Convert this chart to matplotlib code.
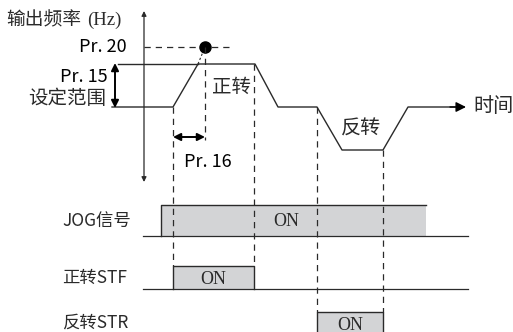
import matplotlib.pyplot as plt

plt.rcParams['font.family'] = ['Noto Sans CJK SC', 'DejaVu Sans']

# diagram units follow the picture: x = time, y grows downward
base_y, top_y, neg_y, pr20_y = 107, 64, 150, 47

# output frequency waveform (time, level)
freq_t = [112, 173, 198, 255, 278, 317, 342, 383, 408, 455]
freq_y = [base_y, base_y, top_y, top_y, base_y, base_y, neg_y, neg_y, base_y, base_y]
pr20_t = 205

# signals: (on, off)
jog_on = (161, 426)
stf_on = (173, 254)
str_on = (317, 383)
sig_rows = [("JOG信号", 236, 205), ("正转STF", 289, 266), ("反转STR", 340, 312)]

ink = "#2a2a2a"
fill = "#d3d4d6"

fig = plt.figure(figsize=(5.13, 3.32), dpi=100)
ax = fig.add_axes([0, 0, 1, 1])
ax.set_xlim(0, 513)
ax.set_ylim(332, 0)
ax.axis("off")

# vertical axis
ax.annotate("", xy=(144, 11), xytext=(144, 182),
            arrowprops=dict(arrowstyle="<|-|>", color=ink, lw=0.9,
                            mutation_scale=7, shrinkA=0, shrinkB=0))
ax.text(6, 20, "输出频率", fontsize=13.5, va="center", ha="left", color=ink)
ax.text(87, 20, "(Hz)", fontsize=13.5, va="center", ha="left", color=ink,
        family="Liberation Serif")

# waveform
ax.plot(freq_t, freq_y, color=ink, lw=1.0)
ax.plot([118, freq_t[2]], [top_y, top_y], color=ink, lw=1.0)
ax.annotate("", xy=(466, base_y), xytext=(450, base_y),
            arrowprops=dict(arrowstyle="-|>", color="black", lw=1.0,
                            mutation_scale=15, shrinkA=0, shrinkB=0))
ax.text(473, base_y, "时间", fontsize=14.5, va="center", ha="left", color=ink)

# Pr.20
ax.plot([144, 232], [pr20_y, pr20_y], color=ink, lw=0.9, ls=(0, (5, 4)))
ax.plot([freq_t[2], pr20_t], [top_y, pr20_y], color=ink, lw=0.8, ls=(0, (2, 2)))
ax.plot([pr20_t], [pr20_y], "o", color="black", ms=8)
ax.text(127, pr20_y, "Pr. 20", fontsize=13, va="center", ha="right", color="black")

# Pr.15
ax.annotate("", xy=(115, top_y - 1), xytext=(115, base_y + 1),
            arrowprops=dict(arrowstyle="<|-|>", color="black", lw=1.4,
                            mutation_scale=11, shrinkA=0, shrinkB=0))
ax.text(108, 77, "Pr. 15", fontsize=13, va="center", ha="right", color="black")
ax.text(106, 99, "设定范围", fontsize=14, va="center", ha="right", color=ink)

# Pr.16
ax.annotate("", xy=(freq_t[1], 137), xytext=(pr20_t, 137),
            arrowprops=dict(arrowstyle="<|-|>", color="black", lw=1.4,
                            mutation_scale=11, shrinkA=0, shrinkB=0))
ax.text(184, 162, "Pr. 16", fontsize=13, va="center", ha="left", color="black")

ax.text(212, 87, "正转", fontsize=14, va="center", ha="left", color=ink)
ax.text(341, 129, "反转", fontsize=14.5, va="center", ha="left", color=ink)

# dashed guides
dash = dict(color=ink, lw=0.9, ls=(0, (5, 4)))
ax.plot([pr20_t, pr20_t], [pr20_y, 140], **dash)
ax.plot([stf_on[0], stf_on[0]], [base_y, 266], **dash)
ax.plot([stf_on[1], stf_on[1]], [top_y, 266], **dash)
ax.plot([str_on[0], str_on[0]], [base_y, 312], **dash)
ax.plot([str_on[1], str_on[1]], [neg_y, 312], **dash)

# signal rows
for (label, y0, y1), (t0, t1) in zip(sig_rows, [jog_on, stf_on, str_on]):
    ax.plot([143, 468], [y0, y0], color=ink, lw=0.9)
    ax.fill_between([t0, t1], y0, y1, color=fill, lw=0, zorder=0)
    if label == "JOG信号":
        ax.plot([t0, t0, t1], [y0, y1, y1], color=ink, lw=1.0)
    else:
        ax.plot([t0, t0, t1, t1], [y0, y1, y1, y0], color=ink, lw=1.0)
    ty = (y0 + y1) / 2 if y0 < 332 else 323
    ax.text(62, ty, label, fontsize=12.5, va="center", ha="left", color=ink)

serif = dict(fontsize=13, va="center", ha="center", family="Liberation Serif",
             color=ink, stretch="condensed")
ax.text(286, 222, "ON", **serif)
ax.text(213, 279, "ON", **serif)
ax.text(350, 325, "ON", **serif)

fig.savefig("out.png", dpi=100)
